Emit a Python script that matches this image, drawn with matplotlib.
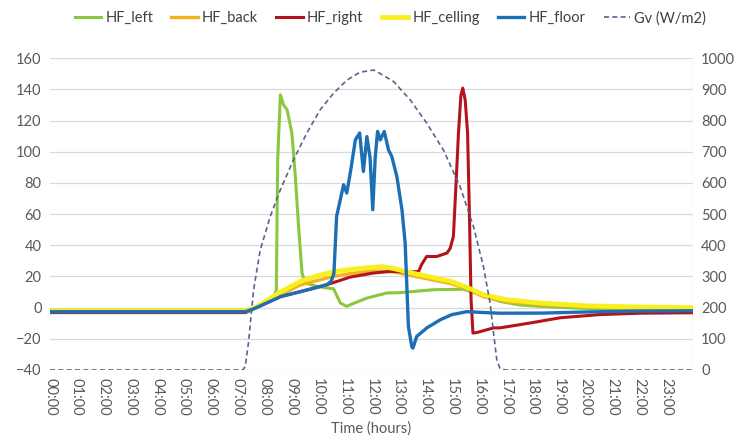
import matplotlib
matplotlib.use("Agg")
import matplotlib.pyplot as plt

plt.rcParams['font.family'] = ['Lato', 'DejaVu Sans']

hour_labels = [f"{h:02d}:00" for h in range(24)]

# HF_left (green)
t_left = [0, 7.3, 7.6, 8.0, 8.35, 8.45, 8.5, 8.6, 8.72, 8.85, 9.03, 9.16, 9.28, 9.41, 9.53, 10.0, 10.59,
          10.84, 11.0, 11.08, 11.3, 11.83, 12.58, 13.07, 14.32, 15.44, 16.06, 16.8, 17.5, 18.3, 20.0, 22.0, 24.0]
v_left = [-1.5, -1.5, -0.5, 3.5, 6.0, 11.5, 94.8, 136.5, 130.0, 127.0, 112.0, 84.0, 52.0, 22.0, 15.8, 13.5, 12.0,
          3.0, 1.5, 0.8, 2.5, 6.1, 9.4, 9.6, 11.5, 11.8, 8.3, 4.0, 1.8, 0.8, -0.5, -1.2, -1.5]

# HF_back (orange)
t_back = [0, 7.3, 7.6, 8.0, 8.6, 9.34, 10.0, 10.59, 11.2, 12.08, 12.83, 13.7, 14.94, 15.5, 16.18, 17.05, 18.3, 20.0, 22.0, 24.0]
v_back = [-2.0, -2.0, -0.7, 3.0, 8.0, 14.5, 17.5, 20.0, 21.8, 23.5, 23.0, 19.8, 15.5, 12.5, 7.0, 3.8, 2.0, 0.5, -0.3, -0.8]

# HF_right (dark red)
t_right = [0, 7.3, 7.6, 8.6, 9.84, 10.34, 11.21, 12.08, 12.7, 13.45, 13.76, 13.87, 14.06, 14.44, 14.82, 14.94, 15.06,
           15.16, 15.25, 15.34, 15.41, 15.5, 15.59, 15.66, 15.72, 15.79, 15.93, 16.56, 16.8, 18.05, 19.05, 20.5, 22.0, 24.0]
v_right = [-3.2, -3.2, -0.9, 7.0, 12.4, 14.7, 19.6, 22.2, 23.2, 22.8, 23.2, 27.5, 32.8, 32.8, 35.0, 38.0, 45.6,
           79.9, 112.0, 136.0, 140.8, 133.3, 112.0, 58.5, 5.0, -16.3, -16.0, -13.0, -13.0, -9.5, -6.5, -4.5, -3.6, -3.3]

# HF_celling (yellow)
t_ceil = [0, 7.3, 7.6, 8.0, 8.6, 9.34, 10.0, 10.59, 11.2, 12.08, 12.4, 12.83, 13.7, 14.94, 15.5, 16.18, 17.05, 18.3, 20.0, 22.0, 24.0]
v_ceil = [-2.0, -2.0, -0.5, 3.5, 10.0, 16.8, 20.5, 23.0, 24.5, 26.0, 26.3, 25.0, 21.5, 17.0, 13.5, 8.3, 5.1, 3.0, 1.2, 0.4, 0.0]

# HF_floor (blue)
t_floor = [0, 7.3, 7.6, 8.6, 9.84, 10.34, 10.5, 10.6, 10.7, 10.96, 11.08, 11.23, 11.4, 11.56, 11.7, 11.83, 11.95,
           12.05, 12.14, 12.23, 12.33, 12.48, 12.64, 12.76, 12.95, 13.14, 13.26, 13.38, 13.51, 13.55, 13.69,
           14.07, 14.57, 15.0, 15.56, 16.0, 16.8, 18.4, 20.0, 22.0, 24.0]
v_floor = [-2.6, -2.6, -0.8, 7.0, 12.4, 14.7, 17.0, 22.0, 58.5, 78.8, 73.5, 88.4, 107.6, 112.0, 87.3, 109.7, 96.0,
           62.8, 96.0, 113.0, 107.6, 113.0, 101.0, 97.0, 84.0, 62.8, 41.4, -12.0, -25.3, -26.0, -18.5,
           -13.0, -7.8, -4.5, -2.6, -3.0, -3.6, -3.5, -2.8, -2.2, -2.0]

# Gv (W/m2), right axis
t_gv = [0, 7.2, 7.29, 7.41, 7.6, 7.85, 8.22, 8.6, 9.09, 9.59, 10.09, 10.59, 11.09, 11.58, 12.08, 12.2, 12.83,
        13.45, 14.07, 14.69, 15.31, 15.81, 16.18, 16.43, 16.56, 16.68, 16.8, 17.0, 24.0]
v_gv = [0, 0, 12, 87, 257, 385, 492, 578, 674, 760, 835, 888, 930, 955, 962, 957, 925,
        866, 791, 705, 588, 460, 332, 215, 118, 33, 5, 0, 0]

fig = plt.figure(figsize=(7.41, 4.44), dpi=100)
ax = fig.add_axes([0.0675, 0.1667, 0.8675, 0.7023])
ax2 = ax.twinx()

ax.plot(t_left, v_left, color='#8CC63E', lw=2.2, label='HF_left', zorder=3)
ax.plot(t_back, v_back, color='#F2B21B', lw=2.4, label='HF_back', zorder=3)
ax.plot(t_right, v_right, color='#B3141B', lw=2.2, label='HF_right', zorder=4)
ax.plot(t_ceil, v_ceil, color='#F7F01E', lw=3.4, label='HF_celling', zorder=5)
ax.plot(t_floor, v_floor, color='#1C6FB4', lw=2.4, label='HF_floor', zorder=6)
ax2.plot(t_gv, v_gv, color='#56648C', lw=1.2, ls=(0, (3, 2)), label='Gv (W/m2)')

ax.set_xlim(0, 24)
ax.set_ylim(-40, 160)
ax.set_yticks(range(-40, 161, 20))
ax2.set_ylim(0, 1000)
ax2.set_yticks(range(0, 1001, 100))
ax.set_xticks(range(24))
ax.set_xticklabels(hour_labels, rotation=-90)
ax.set_xticks(range(25), minor=True)

ax.grid(True, which='minor', axis='x', color='#D9D9D9', lw=0.9)
ax.grid(True, which='major', axis='y', color='#D9D9D9', lw=0.9)
ax.set_axisbelow(True)

for a in (ax, ax2):
    for s in a.spines.values():
        s.set_visible(False)
    a.tick_params(length=0, labelsize=10.5, colors='#595959', which='both')
ax.tick_params(axis='x', pad=6)
ax.tick_params(axis='y', pad=6)
ax2.tick_params(axis='y', pad=6)

ax.set_xlabel('Time (hours)', fontsize=10.5, color='#595959', labelpad=4)

h1, l1 = ax.get_legend_handles_labels()
h2, l2 = ax2.get_legend_handles_labels()
fig.legend(h1 + h2, l1 + l2, loc='upper center', bbox_to_anchor=(0.527, 1.005), ncol=6, frameon=False,
           fontsize=10.5, handlelength=1.8, columnspacing=1.25, handletextpad=0.3, labelcolor='#404040')

fig.savefig('out.png', dpi=100)
